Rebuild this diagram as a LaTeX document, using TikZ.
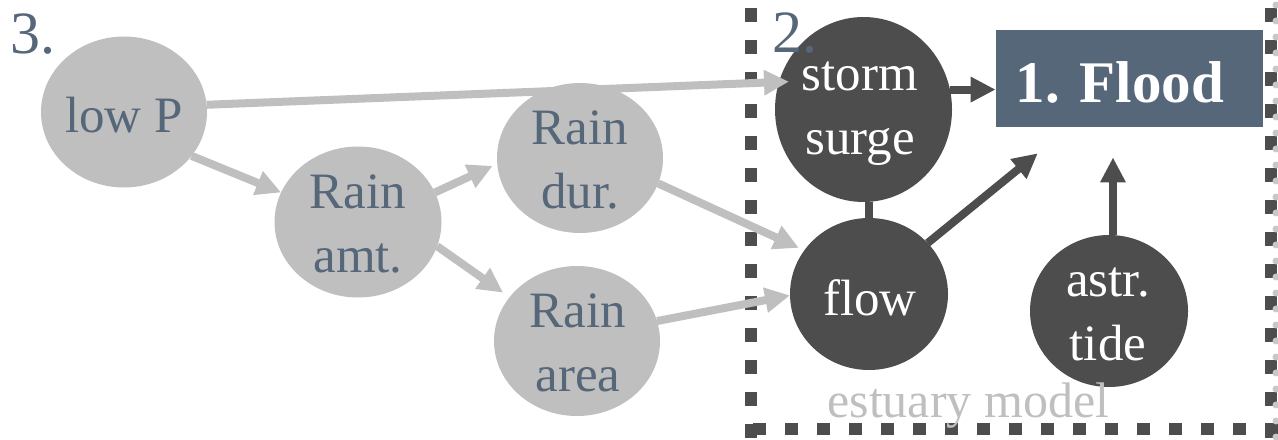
\documentclass[tikz,border=0pt]{standalone}
\usepackage{fontspec}
\setmainfont{Liberation Serif}
\usetikzlibrary{arrows.meta,shapes.geometric}
\definecolor{lg}{HTML}{BFBFBF}
\definecolor{dk}{HTML}{4D4D4D}
\definecolor{sl}{HTML}{56677A}
\definecolor{dotc}{HTML}{C8C8C8}
\begin{document}
\begin{tikzpicture}[x=0.5pt,y=-0.5pt,
  lnode/.style={ellipse, fill=lg, inner sep=0pt, outer sep=0pt},
  dnode/.style={ellipse, fill=dk, inner sep=0pt, outer sep=0pt},
  ltext/.style={text=sl, font=\fontsize{25.5}{32}\selectfont, align=center, inner sep=0pt},
  dtext/.style={text=white, font=\fontsize{25.5}{32}\selectfont, align=center, inner sep=0pt},
  larrow/.style={draw=lg, line width=4pt, -{Triangle[length=12.5pt,width=12pt]}},
  darrow/.style={draw=dk, line width=4pt, -{Triangle[length=12.5pt,width=12pt]}},
  bord/.style={draw=dk, line width=6.25pt, dash pattern=on 7pt off 9pt},
]
\useasboundingbox (0,0) rectangle (1278,439);

% border of the estuary model
\draw[bord] (751,8) -- (751,439);
\draw[bord] (1271,8) -- (1271,439);
\draw[bord, dash pattern=on 6.5pt off 9.5pt] (753,429) -- (1278,429);
\draw[draw=dotc, line width=3.5pt, line cap=round, dash pattern=on 0pt off 8pt] (1276,5) -- (1276,439);

% nodes
\node[lnode, minimum width=83pt, minimum height=75.5pt] (lowP) at (124,112) {};
\node[lnode, minimum width=83.5pt, minimum height=75.5pt] (amt) at (358,222) {};
\node[lnode, minimum width=83pt, minimum height=75pt] (dur) at (580,158) {};
\node[lnode, minimum width=83pt, minimum height=75pt] (area) at (577,341) {};
\node[dnode, minimum width=88.5pt, minimum height=92.5pt] (storm) at (863.5,109.5) {};
\node[dnode, minimum width=79pt, minimum height=76pt] (flow) at (869,294) {};
\node[dnode, minimum width=79pt, minimum height=76pt] (tide) at (1109,311) {};
\node[rectangle, fill=sl, minimum width=133.5pt, minimum height=48.5pt, inner sep=0pt] (flood) at (1129.5,78.5) {};

% connectors
\draw[larrow, shorten >=-5pt] (lowP.5) -- (storm.162);
\draw[larrow] (lowP.-33) -- (amt.159);
\draw[larrow, shorten >=2.5pt] (amt.21) -- (dur.184.5);
\draw[larrow, shorten >=4pt] (amt.-17.5) -- (area.147.4);
\draw[larrow, shorten >=3pt] (dur.-18) -- (flow.146);
\draw[larrow] (area.14) -- (flow.181);
\draw[darrow] (storm.13) -- (storm.13 -| flood.west);
\draw[draw=dk, line width=4pt] (flow.north) -- (flow.north |- storm.south);
\draw[darrow, shorten >=20.5pt] (flow.41) -- (flood);
\draw[darrow, shorten >=15pt] (tide.87) -- (tide.87 |- flood.south);

% texts
\node[ltext, anchor=base] (lowPt) at (124,132) {low P};
\node[ltext] (amtt) at (358,223.5) {Rain\\amt.};
\node[ltext] (durt) at (580,159.5) {Rain\\dur.};
\node[ltext] (areat) at (578,342.5) {Rain\\area};
\node[dtext] (stormt) at (860,114) {storm\\surge};
\node[dtext, anchor=base] (flowt) at (870,315) {flow};
\node[dtext] (tidet) at (1108,314.5) {astr.\\tide};
\node[text=white, font=\bfseries\fontsize{29.5}{35}\selectfont, anchor=base, inner sep=0pt] (floodt) at (1120,102) {1. Flood};
\node[text=sl, font=\fontsize{30}{35}\selectfont, anchor=base west, inner sep=0pt] (n3) at (10,53) {3.};
\node[text=sl, font=\fontsize{30}{35}\selectfont, anchor=base west, inner sep=0pt] (n2) at (772,52) {2.};
\node[text=lg, font=\fontsize{25}{30}\selectfont, anchor=base west, inner sep=0pt] (est) at (827,417) {estuary model};
\end{tikzpicture}
\end{document}
